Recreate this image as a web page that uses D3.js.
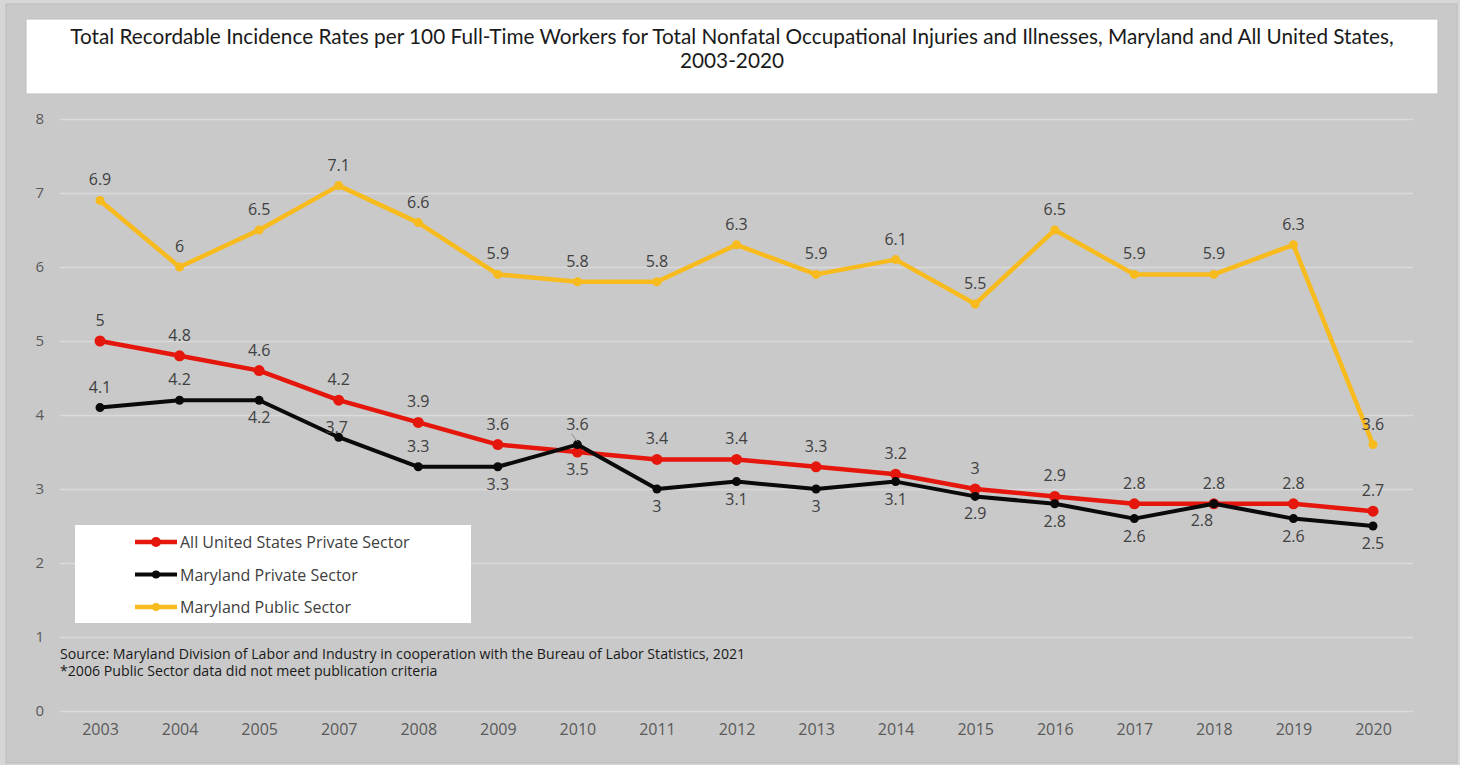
<!DOCTYPE html>
<html>
<head>
<meta charset="utf-8">
<script src="https://cdn.jsdelivr.net/npm/d3@7"></script>
<style>
  body { margin: 0; background: #d6d6d6; }
  svg { display: block; font-family: "Open Sans", sans-serif; }
</style>
</head>
<body>
<div id="chart"></div>
<script>
// data
var years = ["2003", "2004", "2005", "2007", "2008", "2009", "2010", "2011", "2012",
             "2013", "2014", "2015", "2016", "2017", "2018", "2019", "2020"];
var usPrivate = [5, 4.8, 4.6, 4.2, 3.9, 3.6, 3.5, 3.4, 3.4, 3.3, 3.2, 3, 2.9, 2.8, 2.8, 2.8, 2.7];
var mdPrivate = [4.1, 4.2, 4.2, 3.7, 3.3, 3.3, 3.6, 3, 3.1, 3, 3.1, 2.9, 2.8, 2.6, 2.8, 2.6, 2.5];
var mdPublic = [6.9, 6, 6.5, 7.1, 6.6, 5.9, 5.8, 5.8, 6.3, 5.9, 6.1, 5.5, 6.5, 5.9, 5.9, 6.3, 3.6];
var yTicks = [0, 1, 2, 3, 4, 5, 6, 7, 8];
var seriesNames = ["All United States Private Sector", "Maryland Private Sector", "Maryland Public Sector"];
var titleLines = ["Total Recordable Incidence Rates per 100 Full-Time Workers for Total Nonfatal Occupational Injuries and Illnesses, Maryland and All United States,",
                  "2003-2020"];
var notes = ["Source: Maryland Division of Labor and Industry in cooperation with the Bureau of Labor Statistics, 2021",
             "*2006 Public Sector data did not meet publication criteria"];

// where each data label sits: a = above, b = below, n = near (overlapping), l = below-left
var usLabelPos = ["a","a","a","a","a","a","b","a","a","a","a","a","a","a","a","a","a"];
var mdPrivLabelPos = ["a","a","b","n","a","b","a","b","b","b","b","b","b","b","l","b","b"];
var mdPubLabelPos = ["a","a","a","a","a","a","a","a","a","a","a","a","a","a","a","a","a"];

var w = 1460, h = 765;
var vis = d3.select("#chart").append("svg").attr("width", w).attr("height", h);

// chart area
vis.append("rect").attr("x", 6).attr("y", 4).attr("width", 1451).attr("height", 759)
   .attr("fill", "#c9c9c9").attr("stroke", "#bcbcbc");

// title box
vis.append("rect").attr("x", 26).attr("y", 19).attr("width", 1412).attr("height", 75)
   .attr("fill", "#ffffff").attr("stroke", "#bdbdbd");

function fitWidth(sel, width) {
  var len = sel.node().getComputedTextLength();
  var fs = parseFloat(sel.attr("font-size"));
  sel.attr("font-size", fs * width / len);
}

var t1 = vis.append("text").attr("x", 732).attr("y", 44).attr("text-anchor", "middle")
   .attr("font-family", "Lato").attr("font-size", 18).attr("fill", "#1a1a1a")
   .text(titleLines[0]);
fitWidth(t1, 1324);
vis.append("text").attr("x", 732).attr("y", 68).attr("text-anchor", "middle")
   .attr("font-family", "Lato").attr("font-size", t1.attr("font-size")).attr("fill", "#1a1a1a")
   .text(titleLines[1]);

// scales
var x = d3.scalePoint().domain(years).range([100, 1373]);
var y = d3.scaleLinear().domain([0, 8]).range([711, 119]);

// gridlines + y labels
var yAxis = vis.append("g").attr("transform", "translate(60,0)")
   .call(d3.axisLeft(y).tickValues(yTicks).tickSize(-1353).tickPadding(16).tickFormat(d3.format("d")));
yAxis.select(".domain").remove();
yAxis.selectAll("line").attr("stroke", "#dadada").attr("stroke-width", 1.5);
yAxis.selectAll("text").attr("fill", "#595959").attr("font-size", 15).attr("font-family", "Open Sans");

// x labels
var xAxis = vis.append("g").attr("transform", "translate(0,711)")
   .call(d3.axisBottom(x).tickSize(0).tickPadding(13));
xAxis.select(".domain").remove();
xAxis.selectAll("text").attr("fill", "#595959").attr("font-size", 16).attr("font-family", "Open Sans");

// series
var series = [
  {name: seriesNames[0], values: usPrivate, color: "#e5170d", width: 4.5, r: 5.5, pos: usLabelPos},
  {name: seriesNames[1], values: mdPrivate, color: "#0a0a0a", width: 4, r: 4.5, pos: mdPrivLabelPos},
  {name: seriesNames[2], values: mdPublic, color: "#f7bb1e", width: 4.5, r: 4.5, pos: mdPubLabelPos}
];

var line = d3.line().x((d, i) => x(years[i])).y(d => y(d));

series.forEach(function(s) {
  vis.append("path").datum(s.values)
     .attr("d", line).attr("fill", "none")
     .attr("stroke", s.color).attr("stroke-width", s.width)
     .attr("stroke-linejoin", "round");
  vis.selectAll(null).data(s.values).enter()
     .append("circle")
     .attr("cx", (d, i) => x(years[i]))
     .attr("cy", d => y(d))
     .attr("r", s.r)
     .attr("fill", s.color);
});

// small leader line from the 2010 Maryland private label
vis.append("line")
   .attr("x1", x("2010") - 6).attr("y1", y(mdPrivate[6]) - 11)
   .attr("x2", x("2010")).attr("y2", y(mdPrivate[6]) - 3)
   .attr("stroke", "#8c8c8c").attr("stroke-width", 1);

// data labels on top of all lines
var offs = {a: [0, -21], b: [0, 17], n: [-2, -10], l: [-12, 16]};
series.forEach(function(s) {
  vis.selectAll(null).data(s.values).enter()
     .append("text")
     .attr("x", (d, i) => x(years[i]) + offs[s.pos[i]][0])
     .attr("y", (d, i) => y(d) + offs[s.pos[i]][1])
     .attr("text-anchor", "middle")
     .attr("dominant-baseline", "central")
     .attr("font-size", 16)
     .attr("fill", "#404040")
     .text(d => d);
});

// legend
var leg = vis.append("g");
leg.append("rect").attr("x", 75).attr("y", 525).attr("width", 396).attr("height", 98)
   .attr("fill", "#ffffff");
series.forEach(function(s, i) {
  var ly = 542 + i * 32.5;
  leg.append("line").attr("x1", 135).attr("x2", 177).attr("y1", ly).attr("y2", ly)
     .attr("stroke", s.color).attr("stroke-width", s.width);
  leg.append("circle").attr("cx", 156).attr("cy", ly).attr("r", s.r - 0.5).attr("fill", s.color);
  leg.append("text").attr("x", 180).attr("y", ly).attr("dominant-baseline", "central")
     .attr("font-size", 16).attr("fill", "#404040").text(s.name);
});

// source notes
var n1 = vis.append("text").attr("x", 60).attr("y", 659).attr("font-size", 12)
   .attr("fill", "#1a1a1a").text(notes[0]);
fitWidth(n1, 686);
vis.append("text").attr("x", 60).attr("y", 676).attr("font-size", n1.attr("font-size"))
   .attr("fill", "#1a1a1a").text(notes[1]);
</script>
</body>
</html>
